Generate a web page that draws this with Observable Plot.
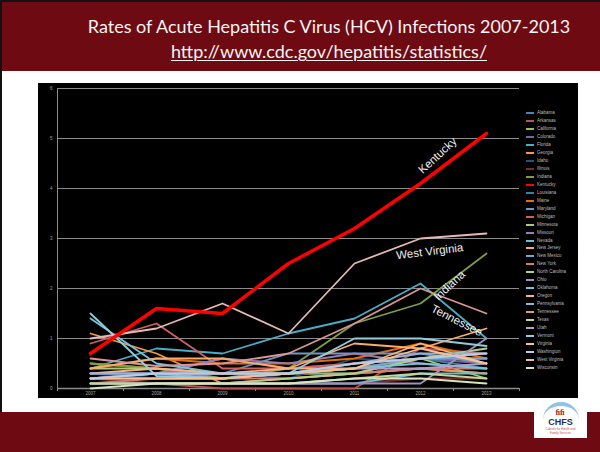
<!DOCTYPE html>
<html><head><meta charset="utf-8">
<script src="https://cdn.jsdelivr.net/npm/d3@7"></script>
<script src="https://cdn.jsdelivr.net/npm/@observablehq/plot@0.6"></script>
<style>
html,body{margin:0;padding:0;width:600px;height:452px;overflow:hidden;background:#fff;}
#slide{position:relative;width:600px;height:452px;background:#fff;overflow:hidden;}
#edgeL{position:absolute;left:0;top:0;width:2px;height:452px;background:#111;}
#header{position:absolute;left:0;top:0;width:600px;height:71px;background:#6d0a12;border-top:2px solid #111;box-sizing:border-box;}
.t{position:absolute;left:58px;width:542px;text-align:center;color:#f4f4f4;font-family:Lato,"Open Sans",sans-serif;font-size:18px;line-height:22px;white-space:nowrap;}
#t1{top:13px;}
#t2{top:38px;text-decoration:underline;text-decoration-thickness:1px;text-underline-offset:2px;}
#footer{position:absolute;left:0;top:412px;width:600px;height:40px;background:#6d0a12;}
#panel{position:absolute;left:38px;top:83px;width:540px;height:315px;background:#000;}
#chart{position:absolute;left:0;top:0;}
#legend{position:absolute;left:488px;top:26px;width:52px;}
.row{position:absolute;left:0;height:8px;width:52px;}
.sw{position:absolute;left:0;top:3px;width:8px;height:2px;}
.lb{position:absolute;left:11px;top:0;font:4.5px/8px "Liberation Sans",Arial,sans-serif;color:#bdbdbd;white-space:nowrap;}
#logo{position:absolute;left:534px;top:398px;width:53px;height:40px;background:#fff;}
#arc{position:absolute;left:9px;top:4px;width:36px;height:18px;border-top:4px solid #8fc3e6;border-radius:50% 50% 0 0/100% 100% 0 0;box-sizing:border-box;}
#fig{position:absolute;left:19px;top:11px;width:14px;font:bold 8px/8px "Liberation Serif",serif;color:#a11c2a;text-align:center;}
#chfs{position:absolute;left:0;top:19px;width:53px;text-align:center;font:bold 9px/10px "Liberation Sans",Arial,sans-serif;color:#1f2f55;}
#sub{position:absolute;left:0;top:29px;width:53px;text-align:center;font:3px/4px "Liberation Sans",Arial,sans-serif;color:#c0504d;}
</style></head>
<body>
<div id="slide">
  <div id="header">
    <div class="t" id="t1">Rates of Acute Hepatitis C Virus (HCV) Infections 2007-2013</div>
    <div class="t" id="t2">http://www.cdc.gov/hepatitis/statistics/</div>
  </div>
  <div id="edgeL"></div>
  <div id="panel"><div id="chart"></div><div id="legend"></div></div>
  <div id="footer"></div>
  <div id="logo"><div id="arc"></div><div id="fig">ﬁﬁ</div><div id="chfs">CHFS</div><div id="sub">Cabinet for Health and<br>Family Services</div></div>
</div>
<script>
const years = [2007, 2008, 2009, 2010, 2011, 2012, 2013];
const yTicks = [0, 1, 2, 3, 4, 5, 6];
const states = ["Alabama","Arkansas","California","Colorado","Florida","Georgia","Idaho","Illinois","Indiana","Kentucky","Louisiana","Maine","Maryland","Michigan","Minnesota","Missouri","Nevada","New Jersey","New Mexico","New York","North Carolina","Ohio","Oklahoma","Oregon","Pennsylvania","Tennessee","Texas","Utah","Vermont","Virginia","Washington","West Virginia","Wisconsin"];
const rates = [
  [0.3, 0.3, 0.2, 0.3, 0.3, 0.6, 0.6],   // Alabama
  [0.1, 0.1, 0.0, 0.0, 0.0, 0.8, 0.7],   // Arkansas
  [0.5, 0.4, 0.2, 0.3, 0.3, 0.4, 0.3],   // California
  [0.2, 0.3, 0.6, 0.4, 0.5, 0.6, 0.5],   // Colorado
  [0.4, 0.8, 0.7, 1.1, 1.4, 2.1, 1.0],   // Florida
  [1.1, 0.7, 0.1, 0.2, 0.3, 0.4, 0.3],   // Georgia
  [0.3, 0.2, 0.3, 0.2, 0.6, 0.5, 0.4],   // Idaho
  [0.2, 0.1, 0.1, 0.1, 0.1, 0.2, 0.2],   // Illinois
  [0.5, 0.4, 0.2, 0.4, 1.3, 1.7, 2.7],   // Indiana
  [0.7, 1.6, 1.5, 2.5, 3.2, 4.1, 5.1],   // Kentucky
  [0.3, 0.3, 0.3, 0.3, 0.5, 0.6, 0.4],   // Louisiana
  [0.4, 0.6, 0.5, 0.5, 0.6, 0.9, 0.6],   // Maine
  [0.2, 0.3, 0.3, 0.7, 0.7, 0.7, 0.5],   // Maryland
  [0.9, 1.3, 0.4, 0.4, 0.5, 0.6, 0.6],   // Michigan
  [0.4, 0.4, 0.3, 0.3, 0.4, 0.6, 0.2],   // Minnesota
  [0.3, 0.3, 0.6, 0.5, 0.7, 0.5, 0.4],   // Missouri
  [0.1, 0.1, 0.1, 0.1, 0.1, 0.3, 0.3],   // Nevada
  [0.4, 0.6, 0.6, 0.4, 0.9, 0.8, 1.2],   // New Jersey
  [0.2, 0.2, 0.2, 0.3, 0.4, 0.6, 0.6],   // New Mexico
  [0.1, 0.2, 0.2, 0.2, 0.3, 0.4, 0.4],   // New York
  [0.1, 0.1, 0.1, 0.2, 0.3, 0.6, 0.8],   // North Carolina
  [0.1, 0.1, 0.1, 0.1, 0.1, 0.1, 1.0],   // Ohio
  [1.4, 0.5, 0.3, 0.3, 0.4, 0.5, 0.4],   // Oklahoma
  [0.3, 0.4, 0.3, 0.4, 0.4, 0.9, 0.5],   // Oregon
  [0.3, 0.3, 0.2, 0.3, 0.5, 0.7, 0.7],   // Pennsylvania
  [0.6, 0.45, 0.5, 0.7, 1.3, 2.0, 1.5],  // Tennessee
  [0.1, 0.1, 0.1, 0.1, 0.2, 0.3, 0.2],   // Texas
  [0.2, 0.3, 0.3, 0.3, 0.4, 0.4, 0.5],   // Utah
  [1.5, 0.25, 0.2, 0.3, 1.0, 1.0, 0.85], // Vermont
  [0.2, 0.2, 0.2, 0.3, 0.4, 0.8, 0.5],   // Virginia
  [0.2, 0.3, 0.3, 0.3, 0.5, 0.6, 0.7],   // Washington
  [1.0, 1.2, 1.7, 1.1, 2.5, 3.0, 3.1],   // West Virginia
  [0.0, 0.1, 0.1, 0.1, 0.2, 0.2, 0.1]    // Wisconsin
];
const palette = ["#4F81BD","#C0504D","#9BBB59","#8064A2","#4BACC6","#F79646","#2C4D75","#772C2A","#7F9F3F","#FF0000","#31859C","#E46C0A","#6D97CE","#D0615E","#AFC97A","#977FB5","#6FBDD1","#F9AB6B","#7EA2D0","#D47B79","#B6CF86","#A28FC0","#7AC3D6","#FAB47C","#95B3D7","#D99694","#C3D69B","#B3A2C7","#93CDDD","#FAC090","#B9CDE5","#E6B9B8","#D7E4BD"];
const labelText = ["Kentucky", "West Virginia", "Indiana", "Tennessee"];
const labelYear = [2012.26, 2012.14, 2012.44, 2012.55];
const labelRate = [4.66, 2.74, 2.06, 1.36];
const labelAngle = [-43, -7, -43, 27];

const data = states.flatMap((s, i) => years.map((y, j) => ({state: s, year: y, rate: rates[i][j]})));
const others = data.filter(d => d.state !== "Kentucky");
const ky = data.filter(d => d.state === "Kentucky");
const bounds = d3.range(years.length + 1).map(i => years[0] - 0.5 + i);
const labels = labelText.map((t, i) => ({t, x: labelYear[i], y: labelRate[i], a: labelAngle[i]}));

const grey = "#8c8c8c";
const chart = Plot.plot({
  width: 540, height: 315,
  marginLeft: 19, marginRight: 59, marginTop: 5, marginBottom: 10,
  style: {background: "transparent", color: "#a6a6a6", fontFamily: "Liberation Sans, Arial, sans-serif"},
  x: {domain: [years[0] - 0.5, years[years.length - 1] + 0.5]},
  y: {domain: [0, 6]},
  color: {domain: states, range: palette},
  marks: [
    Plot.gridY(yTicks.slice(1), {stroke: grey, strokeOpacity: 1, strokeWidth: 1}),
    Plot.axisY(yTicks, {tickSize: 0, tickPadding: 5, fontSize: 4.5, fill: "#a6a6a6", tickFormat: d => String(d)}),
    Plot.axisX(years, {tickSize: 0, tickPadding: 3, fontSize: 4.5, fill: "#a6a6a6", tickFormat: d => String(d)}),
    Plot.axisX(bounds, {tickSize: 3, stroke: grey, tickFormat: () => ""}),
    Plot.ruleX([years[0] - 0.5], {stroke: grey, strokeWidth: 1}),
    Plot.ruleY([0], {stroke: grey, strokeWidth: 1.5}),
    Plot.line(others, {x: "year", y: "rate", z: "state", stroke: "state", strokeWidth: 1.8}),
    Plot.line(ky, {x: "year", y: "rate", z: "state", stroke: "state", strokeWidth: 3.5}),
    Plot.text(labels, {x: "x", y: "y", text: "t", rotate: "a", fill: "#eeeeee", fontSize: 11.5, fontFamily: "Liberation Sans, Arial, sans-serif"})
  ]
});
document.getElementById("chart").appendChild(chart);

const legend = document.getElementById("legend");
states.forEach((s, i) => {
  const row = document.createElement("div");
  row.className = "row";
  row.style.top = (i * 7.97) + "px";
  const sw = document.createElement("div");
  sw.className = "sw";
  sw.style.background = palette[i];
  const lb = document.createElement("div");
  lb.className = "lb";
  lb.textContent = s;
  row.appendChild(sw); row.appendChild(lb);
  legend.appendChild(row);
});
</script>
</body></html>
